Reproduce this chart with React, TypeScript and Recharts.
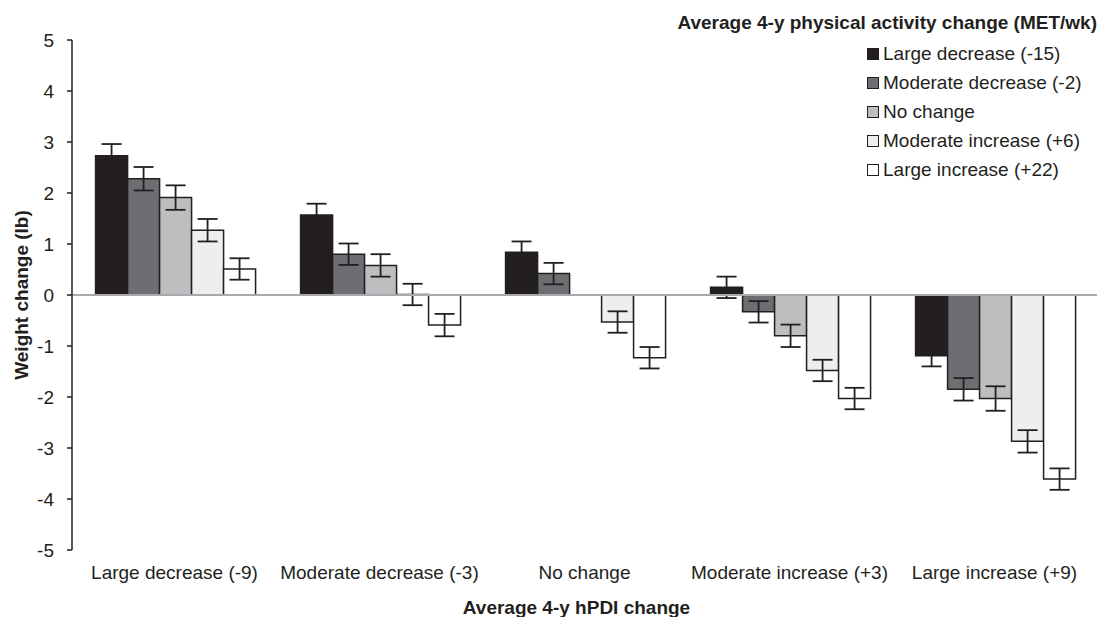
import {
  Bar,
  BarChart,
  ErrorBar,
  Label,
  ReferenceLine,
  XAxis,
  YAxis,
} from "recharts";

const categories = [
  "Large decrease (-9)",
  "Moderate decrease (-3)",
  "No change",
  "Moderate increase (+3)",
  "Large increase (+9)",
];

// weight change (lb) per hPDI group, one array per physical activity group
const largeDecrease = [2.73, 1.57, 0.84, 0.15, -1.19];
const moderateDecrease = [2.28, 0.8, 0.42, -0.33, -1.85];
const noChange = [1.91, 0.58, 0, -0.8, -2.03];
const moderateIncrease = [1.27, 0.01, -0.53, -1.48, -2.87];
const largeIncrease = [0.51, -0.59, -1.23, -2.03, -3.61];

const errLargeDecrease = [0.23, 0.22, 0.21, 0.21, 0.21];
const errModerateDecrease = [0.23, 0.21, 0.21, 0.21, 0.22];
const errNoChange = [0.24, 0.22, null, 0.22, 0.24];
const errModerateIncrease = [0.22, 0.21, 0.21, 0.21, 0.22];
const errLargeIncrease = [0.21, 0.22, 0.21, 0.21, 0.21];

const yTicks = [-5, -4, -3, -2, -1, 0, 1, 2, 3, 4, 5];

const SERIES = [
  { key: "ld", name: "Large decrease (-15)", values: largeDecrease, err: errLargeDecrease, fill: "#231f20" },
  { key: "md", name: "Moderate decrease (-2)", values: moderateDecrease, err: errModerateDecrease, fill: "#6d6e71" },
  { key: "nc", name: "No change", values: noChange, err: errNoChange, fill: "#bcbec0" },
  { key: "mi", name: "Moderate increase (+6)", values: moderateIncrease, err: errModerateIncrease, fill: "#eeeeee" },
  { key: "li", name: "Large increase (+22)", values: largeIncrease, err: errLargeIncrease, fill: "#ffffff" },
];

const data = categories.map((cat, i) => {
  const row: Record<string, any> = { cat };
  SERIES.forEach((s) => {
    row[s.key] = s.values[i];
    row[s.key + "Err"] = s.err[i];
  });
  return row;
});

const FONT = '"Liberation Sans", Arial, sans-serif';
const INK = "#231f20";

function LegendBox() {
  return (
    <div
      style={{
        position: "absolute",
        left: 660,
        top: 12,
        width: 437,
        fontFamily: FONT,
        color: INK,
      }}
    >
      <div
        style={{
          textAlign: "right",
          fontWeight: "bold",
          fontSize: 19,
          lineHeight: "22px",
          whiteSpace: "nowrap",
        }}
      >
        Average 4-y physical activity change (MET/wk)
      </div>
      <div style={{ paddingLeft: 207, marginTop: 5 }}>
        {SERIES.map((s) => (
          <div
            key={s.key}
            style={{
              display: "flex",
              alignItems: "center",
              height: 29,
              fontSize: 19,
              whiteSpace: "nowrap",
            }}
          >
            <span
              style={{
                display: "inline-block",
                width: 10,
                height: 10,
                border: `1px solid ${INK}`,
                background: s.fill,
                marginRight: 4,
              }}
            />
            {s.name}
          </div>
        ))}
      </div>
    </div>
  );
}

export default function App() {
  return (
    <div style={{ position: "absolute", left: 0, top: 0, width: 1100, height: 617, background: "#fff" }}>
      <BarChart
        width={1100}
        height={617}
        data={data}
        margin={{ top: 40, right: 3, left: 0, bottom: 0 }}
        barCategoryGap="11.5%"
        barGap={0}
      >
        <XAxis
          dataKey="cat"
          axisLine={false}
          tickLine={false}
          height={67}
          tickMargin={10}
          tick={{ fill: INK, fontSize: 19, fontFamily: FONT }}
          interval={0}
        >
          <Label
            content={({ viewBox }: any) => (
              <text
                x={viewBox.x + viewBox.width / 2 - 8}
                y={viewBox.y + 64}
                textAnchor="middle"
                fill={INK}
                fontSize={19}
                fontWeight="bold"
                fontFamily={FONT}
              >
                Average 4-y hPDI change
              </text>
            )}
          />
        </XAxis>
        <YAxis
          domain={[-5, 5]}
          ticks={yTicks}
          width={72}
          tickSize={5}
          tickMargin={13}
          axisLine={{ stroke: INK, strokeWidth: 1.5 }}
          tickLine={{ stroke: INK, strokeWidth: 1.5 }}
          tick={{ fill: INK, fontSize: 19, fontFamily: FONT }}
        >
          <Label
            content={({ viewBox }: any) => (
              <text
                x={28}
                y={viewBox.y + viewBox.height / 2}
                transform={`rotate(-90, 28, ${viewBox.y + viewBox.height / 2})`}
                textAnchor="middle"
                fill={INK}
                fontSize={19}
                fontWeight="bold"
                fontFamily={FONT}
              >
                Weight change (lb)
              </text>
            )}
          />
        </YAxis>
        {SERIES.map((s) => (
          <Bar
            key={s.key}
            dataKey={s.key}
            name={s.name}
            fill={s.fill}
            stroke={INK}
            strokeWidth={1.5}
            isAnimationActive={false}
          >
            <ErrorBar
              dataKey={s.key + "Err"}
              width={10}
              stroke={INK}
              strokeWidth={1.8}
              isAnimationActive={false}
            />
          </Bar>
        ))}
        <ReferenceLine y={0} stroke="#a7a9ac" strokeWidth={2} />
      </BarChart>
      <LegendBox />
    </div>
  );
}
